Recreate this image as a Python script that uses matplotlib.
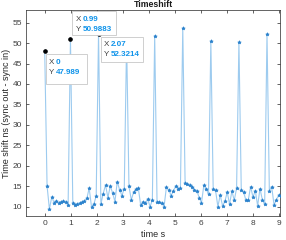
import numpy as np
import matplotlib
matplotlib.use("Agg")
import matplotlib.pyplot as plt
from matplotlib.patches import Rectangle
from matplotlib.transforms import IdentityTransform

plt.rcParams['font.family'] = ['Liberation Sans', 'DejaVu Sans']

# sample times (s) and measured time shift (ns)
t = [0.00, 0.09, 0.18, 0.27, 0.36, 0.45, 0.54, 0.63, 0.72, 0.81, 0.90,
     0.99, 1.08, 1.17, 1.26, 1.35, 1.44, 1.53, 1.62, 1.71, 1.80, 1.89, 1.98,
     2.07, 2.16, 2.25, 2.34, 2.43, 2.52, 2.61, 2.70, 2.79, 2.88, 2.97, 3.06,
     3.15, 3.24, 3.33, 3.42, 3.51, 3.60, 3.69, 3.78, 3.87, 3.96, 4.05, 4.14,
     4.23, 4.32, 4.41, 4.50, 4.59, 4.68, 4.77, 4.86, 4.95, 5.04, 5.13, 5.22,
     5.31, 5.40, 5.49, 5.58, 5.67, 5.76, 5.85, 5.94, 6.03, 6.12, 6.21, 6.30,
     6.39, 6.48, 6.57, 6.66, 6.75, 6.84, 6.93, 7.02, 7.11, 7.20, 7.29, 7.38,
     7.47, 7.56, 7.65, 7.74, 7.83, 7.92, 8.01, 8.10, 8.19, 8.28, 8.37, 8.46,
     8.55, 8.64, 8.73, 8.82, 8.91, 9.00, 9.09]
shift = [47.989, 15.1, 9.4, 12.3, 11.0, 11.3, 11.0, 11.2, 11.3, 11.2, 10.4,
         50.9883, 11.0, 10.4, 10.7, 10.9, 11.1, 11.4, 12.0, 14.5, 9.9, 10.6, 12.6,
         52.3214, 10.6, 13.2, 15.3, 12.2, 15.0, 13.4, 11.2, 16.1, 14.1, 12.7, 14.4,
         50.5, 15.0, 11.6, 13.6, 14.2, 14.5, 10.4, 11.2, 10.8, 11.9, 10.0, 11.5,
         51.8, 11.2, 11.1, 10.9, 10.0, 14.7, 14.1, 12.7, 13.8, 15.1, 14.3, 14.5,
         53.6, 15.8, 15.5, 15.2, 14.7, 14.1, 13.9, 12.2, 10.9, 15.2, 14.3, 13.0,
         50.5, 14.4, 14.0, 10.0, 12.8, 10.2, 11.3, 13.5, 10.6, 13.8, 11.5, 14.5,
         50.2, 14.1, 13.6, 11.5, 11.6, 14.9, 12.3, 13.9, 10.2, 14.4, 11.7, 10.6,
         52.2, 13.9, 14.9, 10.4, 11.7, 12.8, 12.5]

# data tips shown on the chart
tip_x = [0, 0.99, 2.07]
tip_y = [47.989, 50.9883, 52.3214]
tip_xlab = ['0', '0.99', '2.07']
tip_ylab = ['47.989', '50.9883', '52.3214']
# box offsets from the tip point, in pixels (dx, dy_top, width, height)
tip_box = [(1, -3, 41, 30), (2, 28, 44, 24), (2, -3, 42, 25)]

W, H = 286, 240
fig = plt.figure(figsize=(W / 100, H / 100), dpi=100)
ax = fig.add_axes([26 / W, 24 / H, 254 / W, 206 / H])

ax.plot(t, shift, '-', color='#9dcbef', lw=0.8, zorder=2)
ax.plot(t, shift, '*', color='#2b82cc', ms=2.6, mew=0.5, zorder=3)

ax.set_xlim(-0.72, 9.05)
ax.set_ylim(7.7, 58.1)
ax.set_xticks(range(0, 10))
ax.set_yticks(range(10, 60, 5))
ax.tick_params(direction='in', length=2.5, width=0.5, labelsize=6,
               top=True, right=True, colors='#262626', labelcolor='#404040',
               pad=3)
for s in ax.spines.values():
    s.set_color('#262626')
    s.set_linewidth(0.5)

ax.set_title('Timeshift', fontsize=6.3, fontweight='bold', pad=2, color='#1a1a1a')
ax.set_xlabel('time s', fontsize=6.5, labelpad=2, color='#262626')
ax.set_ylabel('Time shift ns (sync out - sync in)', fontsize=6.5, labelpad=1,
              color='#262626')

fig.canvas.draw()
for i in range(len(tip_x)):
    px, py = ax.transData.transform((tip_x[i], tip_y[i]))
    ax.plot(tip_x[i], tip_y[i], 'o', color='k', ms=2.3, zorder=5, clip_on=False)
    dx, dy, bw, bh = tip_box[i]
    left = px + dx
    top = py + dy
    rect = Rectangle((left, top - bh), bw, bh, transform=IdentityTransform(),
                     facecolor='white', edgecolor='#c8c8c8', lw=0.6,
                     zorder=10, clip_on=False)
    ax.add_patch(rect)
    for j, (lab, val) in enumerate([('X', tip_xlab[i]), ('Y', tip_ylab[i])]):
        ty = top - 8 - j * 10
        ax.text(left + 3, ty, lab, transform=IdentityTransform(),
                fontsize=5.8, color='#404040', va='center', zorder=11,
                clip_on=False)
        ax.text(left + 10, ty, val, transform=IdentityTransform(),
                fontsize=5.8, color='#0f93ea', fontweight='bold',
                va='center', zorder=11, clip_on=False)

fig.savefig('out.png', dpi=100, facecolor='white')
